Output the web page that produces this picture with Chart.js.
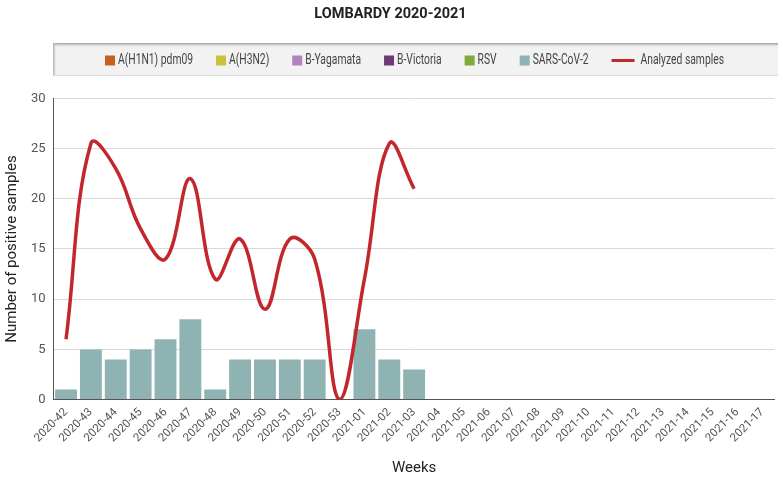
<!DOCTYPE html>
<html>
<head>
<meta charset="utf-8">
<script src="https://cdn.jsdelivr.net/npm/chart.js@4.4.1/dist/chart.umd.min.js"></script>
<style>
html,body{margin:0;padding:0;background:#fff;}
#wrap{width:778px;height:477px;}
</style>
</head>
<body>
<div id="wrap"><canvas id="c" width="778" height="477"></canvas></div>
<script>
const weeks = ["2020-42","2020-43","2020-44","2020-45","2020-46","2020-47","2020-48","2020-49","2020-50","2020-51","2020-52","2020-53","2021-01","2021-02","2021-03","2021-04","2021-05","2021-06","2021-07","2021-08","2021-09","2021-10","2021-11","2021-12","2021-13","2021-14","2021-15","2021-16","2021-17"];
const h1n1 = [0,0,0,0,0,0,0,0,0,0,0,0,0,0,0];
const h3n2 = [0,0,0,0,0,0,0,0,0,0,0,0,0,0,0];
const bYamagata = [0,0,0,0,0,0,0,0,0,0,0,0,0,0,0];
const bVictoria = [0,0,0,0,0,0,0,0,0,0,0,0,0,0,0];
const rsv = [0,0,0,0,0,0,0,0,0,0,0,0,0,0,0];
const sarsCov2 = [1,5,4,5,6,8,1,4,4,4,4,0,7,4,3];
const analyzed = [6,25.5,23,17,14,22,12,16,9,16,14,0,12,25.5,21];
const yTicks = [0,5,10,15,20,25,30];

const FONT = 'Roboto, "Liberation Sans", sans-serif';

const legendPlugin = {
  id: 'boxLegend',
  afterDraw(chart) {
    const ctx = chart.ctx;
    const x0 = 53, x1 = 778, y0 = 43, y1 = 76;
    ctx.save();
    ctx.fillStyle = '#f2f2f2';
    ctx.fillRect(x0, y0, x1 - x0, y1 - y0);
    let g = ctx.createLinearGradient(0, y0, 0, y0 + 5);
    g.addColorStop(0, '#9a9a9a');
    g.addColorStop(1, 'rgba(242,242,242,0)');
    ctx.fillStyle = g;
    ctx.fillRect(x0, y0, x1 - x0, 5);
    g = ctx.createLinearGradient(x0, 0, x0 + 4, 0);
    g.addColorStop(0, '#a8a8a8');
    g.addColorStop(1, 'rgba(242,242,242,0)');
    ctx.fillStyle = g;
    ctx.fillRect(x0, y0, 4, y1 - y0);
    ctx.fillStyle = '#dcdcdc';
    ctx.fillRect(x0, y1 - 1, x1 - x0, 1);

    ctx.font = '14px ' + FONT;
    ctx.textBaseline = 'middle';
    const items = chart.data.datasets.map(d => ({
      text: d.label, color: d.type === 'line' ? d.borderColor : d.backgroundColor, line: d.type === 'line'
    }));
    let textSum = 0;
    items.forEach(it => { it.tw = ctx.measureText(it.text).width; textSum += it.tw; });
    const sx = 374 / textSum;
    const gap = 23;
    let total = 0;
    items.forEach(it => {
      it.sw = it.line ? 23 : 10;
      it.tg = it.line ? 6 : 3;
      it.w = it.sw + it.tg + it.tw * sx;
      total += it.w;
    });
    total += gap * (items.length - 1);
    let x = (x0 + x1) / 2 - total / 2 - 1;
    const cy = (y0 + y1) / 2 + 1;
    items.forEach(it => {
      ctx.fillStyle = it.color;
      if (it.line) ctx.fillRect(x, cy - 1.5, it.sw, 3);
      else ctx.fillRect(x, cy - 5, it.sw, 10);
      ctx.fillStyle = '#444';
      ctx.save();
      ctx.translate(x + it.sw + it.tg, cy);
      ctx.scale(sx, 1);
      ctx.fillText(it.text, 0, 0);
      ctx.restore();
      x += it.w + gap;
    });
    ctx.restore();
  }
};

const barCommon = { type: 'bar', stack: 'b', barPercentage: 0.88, categoryPercentage: 1.0, borderWidth: 0 };

new Chart(document.getElementById('c'), {
  data: {
    labels: weeks,
    datasets: [
      Object.assign({ label: 'A(H1N1) pdm09', data: h1n1, backgroundColor: '#c4621c' }, barCommon),
      Object.assign({ label: 'A(H3N2)', data: h3n2, backgroundColor: '#cbc23a' }, barCommon),
      Object.assign({ label: 'B-Yagamata', data: bYamagata, backgroundColor: '#b184c0' }, barCommon),
      Object.assign({ label: 'B-Victoria', data: bVictoria, backgroundColor: '#6b3a72' }, barCommon),
      Object.assign({ label: 'RSV', data: rsv, backgroundColor: '#80aa3c' }, barCommon),
      Object.assign({ label: 'SARS-CoV-2', data: sarsCov2, backgroundColor: '#8fb2b2' }, barCommon),
      { type: 'line', label: 'Analyzed samples', data: analyzed, borderColor: '#c1272d', backgroundColor: '#c1272d',
        borderWidth: 3.5, tension: 0.4, pointRadius: 0, pointHoverRadius: 0, fill: false, order: -1 }
    ]
  },
  options: {
    responsive: false,
    animation: false,
    devicePixelRatio: 1,
    layout: { padding: { left: 3, right: 0, top: 0, bottom: 0 } },
    plugins: {
      legend: { display: false },
      tooltip: { enabled: false },
      title: {
        display: true, text: 'LOMBARDY 2020-2021', color: '#222',
        font: { family: FONT, size: 14.5, weight: 'bold' },
        padding: { top: 6, bottom: 75 }
      }
    },
    scales: {
      x: {
        stacked: true,
        offset: true,
        grid: { display: false, drawTicks: false },
        border: { color: '#555', width: 1 },
        ticks: { color: '#555', font: { family: FONT, size: 11.5 }, maxRotation: 45, minRotation: 45, autoSkip: false, padding: 6 },
        title: { display: true, text: 'Weeks', color: '#222', font: { family: FONT, size: 15 }, padding: { top: 8, bottom: 0 } }
      },
      y: {
        stacked: true,
        min: 0, max: 30,
        afterBuildTicks(scale) { scale.ticks = yTicks.map(v => ({ value: v })); },
        grid: { color: '#d9d9d9', drawTicks: false },
        border: { color: '#555', width: 1 },
        ticks: { color: '#555', font: { family: FONT, size: 13 }, padding: 8 },
        title: { display: true, text: 'Number of positive samples', color: '#222', font: { family: FONT, size: 15 }, padding: { top: 0, bottom: 2 } }
      }
    }
  },
  plugins: [legendPlugin]
});
</script>
</body>
</html>
